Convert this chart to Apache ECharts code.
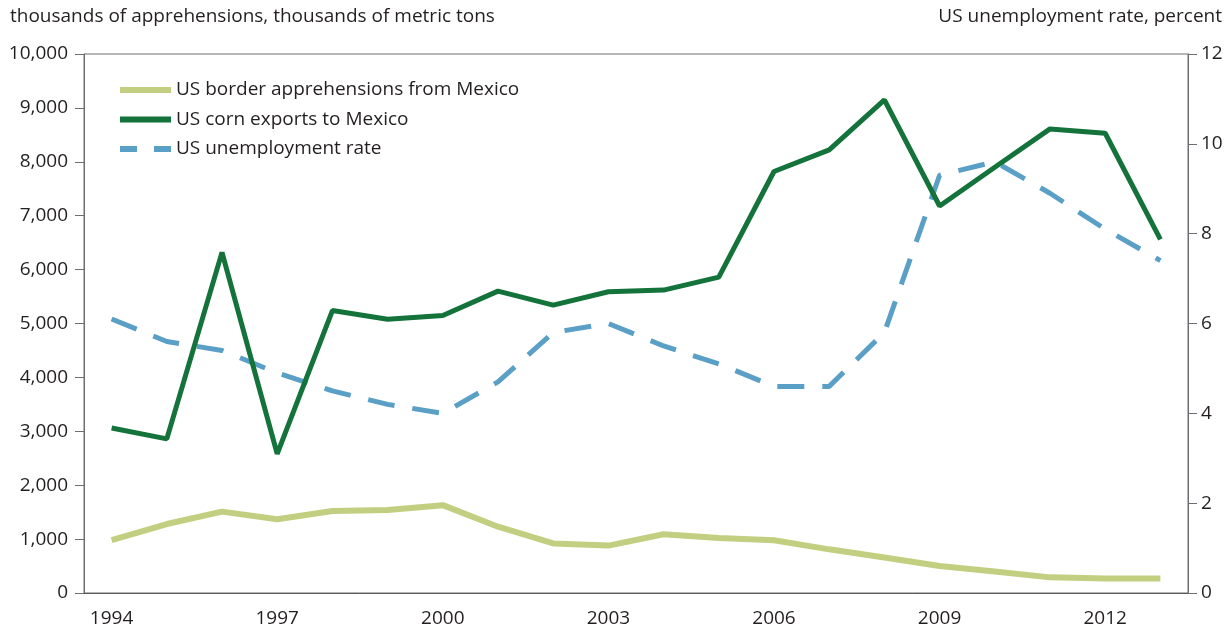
<!DOCTYPE html>
<html>
<head>
<meta charset="utf-8">
<script src="https://cdn.jsdelivr.net/npm/echarts@6/dist/echarts.min.js"></script>
<style>
html,body{margin:0;padding:0;background:#fff;}
#chart{width:1232px;height:634px;}
</style>
</head>
<body>
<div id="chart"></div>
<script>
const years = ['1994','1995','1996','1997','1998','1999','2000','2001','2002','2003','2004','2005','2006','2007','2008','2009','2010','2011','2012','2013'];
const apprehensions = [980,1280,1510,1370,1520,1540,1630,1230,920,880,1090,1020,980,810,660,500,400,290,270,270];
const cornExports = [3060,2860,6320,2580,5240,5080,5150,5600,5340,5590,5620,5860,7820,8220,9150,7180,7900,8610,8530,6560];
const unemployment = [6.1,5.6,5.4,4.9,4.5,4.2,4.0,4.7,5.8,6.0,5.5,5.1,4.6,4.6,5.8,9.3,9.6,8.9,8.1,7.4];
const leftTicks = {min:0, max:10000, interval:1000};
const rightTicks = {min:0, max:12, interval:2};
const names = ['US border apprehensions from Mexico','US corn exports to Mexico','US unemployment rate'];

const FONT = 'Open Sans';
const TXT = '#231f20';
const AX = '#6d6e71';
const C1 = '#c2cf80', C2 = '#13733a', C3 = '#5a9fc6';

const chart = echarts.init(document.getElementById('chart'), null, {renderer:'canvas'});
chart.setOption({
  animation:false,
  backgroundColor:'#fff',
  textStyle:{fontFamily:FONT, color:TXT},
  grid:{left:84, right:44, top:54, bottom:41, show:true, borderColor:AX, borderWidth:1, backgroundColor:'transparent'},
  graphic:[
    {type:'text', left:10, top:7, style:{text:'thousands of apprehensions, thousands of metric tons', font:'19px "Open Sans"', fill:TXT}},
    {type:'text', right:10, top:7, style:{text:'US unemployment rate, percent', font:'19px "Open Sans"', fill:TXT}}
  ],
  legend:{
    left:115, top:75, orient:'vertical', itemGap:9.5, itemWidth:51, itemHeight:6,
    textStyle:{fontFamily:FONT, fontSize:19, lineHeight:20, color:TXT, padding:[0,0,0,0]},
    data:[
      {name:names[0], icon:'rect'},
      {name:names[1], icon:'rect'},
      {name:names[2], icon:'path://M0,0H17V6H0Z M34,0H51V6H34Z'}
    ]
  },
  xAxis:{
    type:'category', data:years, boundaryGap:true,
    axisLine:{lineStyle:{color:'#58595b', width:1}},
    axisTick:{interval:0, length:10, lineStyle:{color:'#58595b'}},
    axisLabel:{interval:2, fontSize:19, color:TXT, margin:16, fontFamily:FONT},
    splitLine:{show:false}
  },
  yAxis:[
    {type:'value', min:leftTicks.min, max:leftTicks.max, interval:leftTicks.interval, position:'left',
     axisLine:{show:true, lineStyle:{color:AX}}, axisTick:{show:true, length:9, lineStyle:{color:AX}},
     axisLabel:{fontSize:19, color:TXT, margin:16, fontFamily:FONT,
       formatter:v=>v.toLocaleString('en-US')},
     splitLine:{show:false}},
    {type:'value', min:rightTicks.min, max:rightTicks.max, interval:rightTicks.interval, position:'right',
     axisLine:{show:true, lineStyle:{color:AX}}, axisTick:{show:true, length:9, lineStyle:{color:AX}},
     axisLabel:{fontSize:19, color:TXT, margin:13, fontFamily:FONT},
     splitLine:{show:false}}
  ],
  series:[
    {name:names[0], type:'line', yAxisIndex:0, data:apprehensions, symbol:'none', lineStyle:{color:C1, width:6}, itemStyle:{color:C1}, z:2},
    {name:names[1], type:'line', yAxisIndex:0, data:cornExports, symbol:'none', lineStyle:{color:C2, width:5}, itemStyle:{color:C2}, z:3},
    {name:names[2], type:'line', yAxisIndex:1, data:unemployment, symbol:'none', lineStyle:{color:C3, width:5, type:[27,18]}, itemStyle:{color:C3}, z:2}
  ]
});
</script>
</body>
</html>
